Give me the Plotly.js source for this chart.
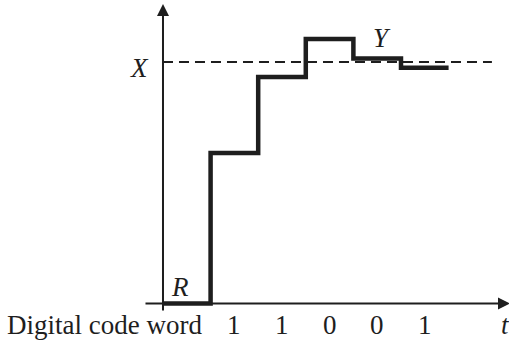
<!DOCTYPE html>
<html>
<head>
<meta charset="utf-8">
<script src="https://cdn.plot.ly/plotly-3.0.1.min.js"></script>
<style>html,body{margin:0;padding:0;background:#fff;}#chart{width:509px;height:340px;}</style>
</head>
<body>
<div id="chart"></div>
<script>
// Data
const stepTimes  = [0, 1, 2, 3, 4, 5, 6];
const stepLevels = [0, 0.623, 0.938, 1.095, 1.0145, 0.976, 0.976];
const refLevel = 1;          // X
const codeBits = ['1', '1', '0', '0', '1'];
const bitPositions = [1.5, 2.5, 3.5, 4.5, 5.5];

const ink = '#1e1e1e';
const serif = 'Liberation Serif';

const traces = [{
  x: stepTimes,
  y: stepLevels,
  mode: 'lines',
  line: {shape: 'hv', color: ink, width: 4.5},
  hoverinfo: 'skip'
}];

const annotations = [];
// y axis arrow
annotations.push({x: 0, y: 1.24, ax: 0, ay: -0.035, xref: 'x', yref: 'y', axref: 'x', ayref: 'y',
  showarrow: true, arrowhead: 2, arrowsize: 1.2, arrowwidth: 2, arrowcolor: ink, standoff: 0, text: ''});
// x axis arrow
annotations.push({x: 7.29, y: 0, ax: -0.399, ay: 0, xref: 'x', yref: 'y', axref: 'x', ayref: 'y',
  showarrow: true, arrowhead: 2, arrowsize: 1.2, arrowwidth: 2, arrowcolor: ink, standoff: 0, text: ''});
// labels
const lab = (text, x, y, opts) => Object.assign({x: x, y: y, xref: 'x', yref: 'y', text: text, showarrow: false,
  font: {family: serif, size: 27, color: ink}}, opts || {});
annotations.push(lab('<i>X</i>', -0.485, 0.975));
annotations.push(lab('<i>Y</i>', 4.6, 1.1, {}));
annotations.push(lab('<i>R</i>', 0.36, 0.07));
annotations.push(lab('<i>t</i>', 7.2, -0.087));
annotations.push(lab('Digital code word', 0.87, -0.087, {xanchor: 'right'}));
codeBits.forEach((b, i) => annotations.push(lab(b, bitPositions[i], -0.087)));

const layout = {
  width: 509, height: 340,
  margin: {l: 0, r: 0, t: 0, b: 0},
  paper_bgcolor: '#fff', plot_bgcolor: '#fff',
  showlegend: false,
  font: {family: serif},
  xaxis: {range: [-3.424, 7.269], visible: false, fixedrange: true},
  yaxis: {range: [-0.1511, 1.2567], visible: false, fixedrange: true},
  shapes: [{type: 'line', xref: 'x', yref: 'y', x0: 0, x1: 6.91, y0: refLevel, y1: refLevel,
    line: {color: ink, width: 2, dash: '10px,6px'}}],
  annotations: annotations
};

Plotly.newPlot('chart', traces, layout, {staticPlot: true, displayModeBar: false});
</script>
</body>
</html>
